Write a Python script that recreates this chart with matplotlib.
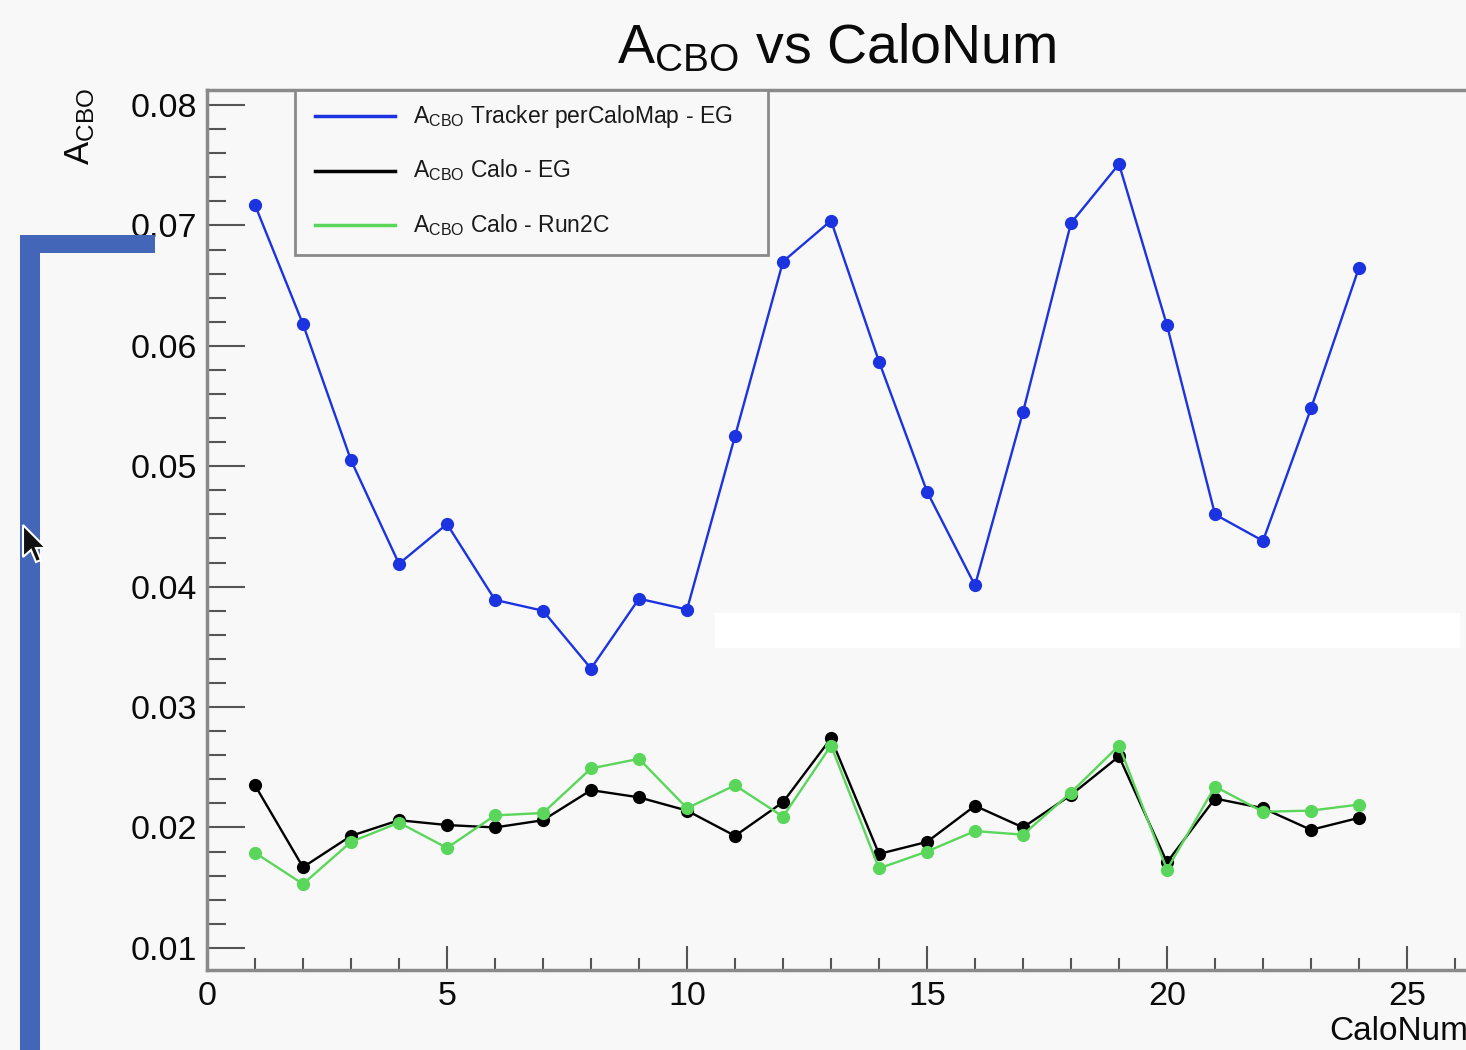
import matplotlib
matplotlib.use("Agg")
import matplotlib.pyplot as plt
from matplotlib.lines import Line2D
from matplotlib.patches import Rectangle, Polygon
from matplotlib.ticker import MultipleLocator

plt.rcParams['font.family'] = ['Liberation Sans', 'DejaVu Sans']
plt.rcParams['mathtext.fontset'] = 'custom'
plt.rcParams['mathtext.rm'] = 'Liberation Sans'
plt.rcParams['mathtext.it'] = 'Liberation Sans'

calo_num = list(range(1, 25))
acbo_tracker_eg = [0.0717, 0.0618, 0.0505, 0.0419, 0.0452, 0.0389, 0.0380, 0.0332,
                   0.0390, 0.0381, 0.0525, 0.0670, 0.0704, 0.0587, 0.0479, 0.0401,
                   0.0545, 0.0702, 0.0751, 0.0617, 0.0460, 0.0438, 0.0548, 0.0665]
acbo_calo_eg = [0.0235, 0.0167, 0.0193, 0.0206, 0.0202, 0.0200, 0.0206, 0.0231,
                0.0225, 0.0214, 0.0193, 0.0221, 0.0274, 0.0178, 0.0188, 0.0218,
                0.0200, 0.0227, 0.0259, 0.0171, 0.0224, 0.0216, 0.0198, 0.0208]
acbo_calo_run2c = [0.0179, 0.0153, 0.0188, 0.0204, 0.0183, 0.0210, 0.0212, 0.0249,
                   0.0257, 0.0216, 0.0235, 0.0209, 0.0268, 0.0166, 0.0180, 0.0197,
                   0.0194, 0.0229, 0.0268, 0.0165, 0.0234, 0.0213, 0.0214, 0.0219]
legend_labels = [r'$\mathrm{A_{CBO}}$ Tracker perCaloMap - EG',
                 r'$\mathrm{A_{CBO}}$ Calo - EG',
                 r'$\mathrm{A_{CBO}}$ Calo - Run2C']

W, H = 1466, 1050
BG = '#f8f8f8'
BLUE = '#1b33e0'
BLACK = '#000000'
GREEN = '#5ad65a'


def fx(px):
    return px / W


def fy(py):
    return 1 - py / H


fig = plt.figure(figsize=(W / 100, H / 100), dpi=100, facecolor=BG)

# plot frame (right edge runs past the canvas)
left, right, top, bottom = 207, 1479, 90, 970
ax = fig.add_axes([fx(left), fy(bottom), (right - left) / W, (bottom - top) / H])
ax.set_facecolor(BG)
ax.set_xlim(0, 26.5)
ax.set_ylim(0.00816, 0.08125)

series = [(acbo_tracker_eg, BLUE), (acbo_calo_eg, BLACK), (acbo_calo_run2c, GREEN)]
for vals, col in series:
    ax.plot(calo_num, vals, color=col, lw=1.7, marker='o', ms=9.5,
            markeredgewidth=0, zorder=3)

ax.xaxis.set_major_locator(MultipleLocator(5))
ax.xaxis.set_minor_locator(MultipleLocator(1))
ax.yaxis.set_major_locator(MultipleLocator(0.01))
ax.yaxis.set_minor_locator(MultipleLocator(0.002))
ax.yaxis.set_major_formatter(matplotlib.ticker.FuncFormatter(lambda v, p: f'{v:.2f}'))
ax.tick_params(which='both', direction='in', colors='#555555', labelcolor='#0a0a0a',
               labelsize=24.5, width=1.5, top=False, right=False)
ax.tick_params(axis='y', which='major', length=27, pad=7)
ax.tick_params(axis='y', which='minor', length=14)
ax.tick_params(axis='x', which='major', length=17, pad=8)
ax.tick_params(axis='x', which='minor', length=9)
for s in ax.spines.values():
    s.set_color('#8a8a8a')
    s.set_linewidth(2.5)

# title and axis titles
fig.text(fx(837), fy(63), r'$\mathrm{A_{CBO}}$ vs CaloNum', ha='center', va='baseline',
         fontsize=40, color='#0a0a0a')
fig.text(fx(80), fy(88), r'$\mathrm{A_{CBO}}$', rotation=90, ha='center', va='top',
         fontsize=25, color='#0a0a0a')
fig.text(fx(1468), fy(1047), 'CaloNum', ha='right', va='bottom', fontsize=24,
         color='#0a0a0a')

# legend box
fig.patches.append(Rectangle((fx(295), fy(255)), (768 - 295) / W, (255 - 90) / H,
                             transform=fig.transFigure, facecolor=BG,
                             edgecolor='#8a8a8a', lw=2, zorder=5))
for i, ((_, col), lab) in enumerate(zip(series, legend_labels)):
    yy = fy(116 + i * 54.5)
    fig.lines.append(Line2D([fx(315), fx(395)], [yy, yy], transform=fig.transFigure,
                            color=col, lw=2.5, zorder=6))
    fig.text(fx(413), yy, lab, ha='left', va='center', fontsize=16.5,
             color='#1a1a1a', zorder=6)

# white strip across the plot area
fig.patches.append(Rectangle((fx(715), fy(648)), (1460 - 715) / W, 35 / H,
                             transform=fig.transFigure, facecolor='white',
                             edgecolor='none', zorder=7))

# blue bracket at the left edge
bracket = '#4466b8'
fig.patches.append(Rectangle((fx(20), fy(253)), (155 - 20) / W, 18 / H,
                             transform=fig.transFigure, facecolor=bracket,
                             edgecolor='none', zorder=8))
fig.patches.append(Rectangle((fx(20), 0), 20 / W, (1050 - 235) / H,
                             transform=fig.transFigure, facecolor=bracket,
                             edgecolor='none', zorder=8))

# mouse pointer
cx, cy = 23, 525
pts = [(cx, cy), (cx, cy + 32), (cx + 8, cy + 25), (cx + 13, cy + 37),
       (cx + 18, cy + 35), (cx + 13, cy + 23), (cx + 23, cy + 23)]
fig.patches.append(Polygon([(fx(a), fy(b)) for a, b in pts], closed=True,
                           transform=fig.transFigure, facecolor='#111111',
                           edgecolor='white', lw=1.5, zorder=9))

fig.savefig('out.png', dpi=100, facecolor=BG)
